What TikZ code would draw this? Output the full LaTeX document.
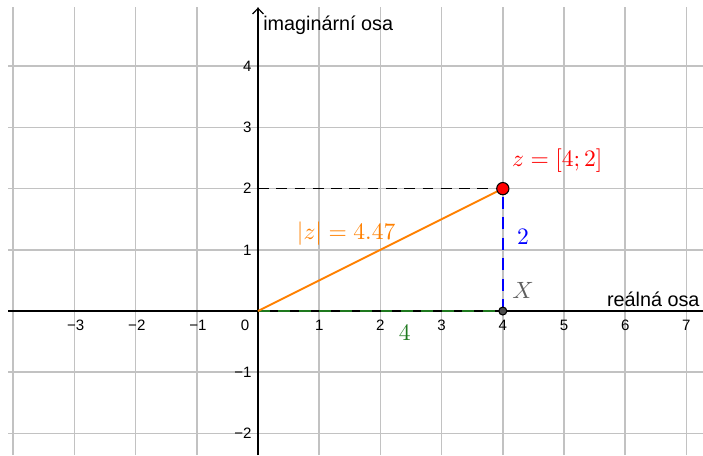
\documentclass[tikz,border=0pt]{standalone}
\usepackage{amsmath}
\usepackage{fontspec}
\newfontfamily\axisfont{Liberation Sans}
\usepackage{xcolor}
\usepackage{tikz}
\usetikzlibrary{positioning,arrows.meta,calc}

\definecolor{zred}{RGB}{255,0,0}
\definecolor{zorange}{RGB}{255,128,0}
\definecolor{zblue}{RGB}{0,0,255}
\definecolor{zgreen}{RGB}{30,120,30}
\definecolor{zgray}{RGB}{95,95,95}

\begin{document}
\begin{tikzpicture}[
  gridline/.style={draw=black!24, line width=0.7pt},
  axis/.style={line width=0.55pt},
  tick/.style={font=\axisfont\fontsize{7}{8}\selectfont, inner sep=0pt},
  axlabel/.style={font=\axisfont\fontsize{9.2}{11}\selectfont, inner sep=0pt},
  mlabel/.style={font=\fontsize{10.5}{12}\selectfont, inner sep=0pt},
  seg/.style={line width=0.9pt, dash pattern=on 5.5pt off 4pt},
  pt/.style={circle, draw=black, line width=0.5pt, inner sep=0pt}
]
\useasboundingbox (-4.2157,-2.353) rectangle (7.271,5.082);

% grid
\foreach \x in {-4,...,7}
  \draw[gridline] (\x,-2.353) -- (\x,4.97);
\foreach \y in {-2,...,4}
  \draw[gridline] (-4.08,\y) -- (7.271,\y);

% axes
\coordinate (xl) at (-4.08,0);
\coordinate (xr) at (7.271,0);
\coordinate (yb) at (0,-2.353);
\coordinate (yt) at (0,4.96);
\draw[axis] (xl) -- (xr);
\draw[axis, -{Straight Barb[length=2.6pt, width=5pt]}] (yb) -- (yt);

\node[axlabel, anchor=west] (im) at (0.08,4.67) {imaginární osa};
\node[axlabel, anchor=east] (re) at (7.22,0.19) {reálná osa};

% tick labels
\foreach \x in {-3,-2,-1}
  \node[tick] (tx\x) at (\x+0.02,-0.23) {\textminus\the\numexpr-\x\relax};
\foreach \x in {1,...,7}
  \node[tick] (tx\x) at (\x,-0.23) {\x};
\node[tick] (t0) at (-0.21,-0.23) {0};
\foreach \y in {1,...,4}
  \node[tick, anchor=east] (ty\y) at (-0.1,\y) {\y};
\foreach \y in {1,2}
  \node[tick, anchor=east] (tyn\y) at (-0.1,-\y) {\textminus\y};

% point and segments
\coordinate (O) at (0,0);
\coordinate (Y) at (0,2);
\coordinate (Zc) at (4,2);
\coordinate (Xc) at (4,0);
\draw[line width=0.7pt, dash pattern=on 5pt off 3.5pt] (Y) -- (Zc);
\draw[seg, zgreen] (O) -- (Xc);
\draw[seg, zblue] (Xc) -- (Zc);
\draw[zorange, line width=0.9pt] (O) -- (Zc);

\node[pt, fill=black!70, minimum size=0.13cm] (X) at (Xc) {};
\node[pt, fill=zred, minimum size=0.2cm] (Z) at (Zc) {};

% labels
\node[mlabel, text=zred] (zlab) at (4.89,2.45) {$z=[4;2]$};
\node[mlabel, text=zorange] (abslab) at (1.44,1.27) {$|z|=4.47$};
\node[mlabel, text=zblue] (im2) at (4.33,1.21) {$2$};
\node[mlabel, text=zgray] (xlab) at (4.33,0.34) {$X$};
\node[mlabel, text=zgreen] (re4) at (2.40,-0.36) {$4$};
\end{tikzpicture}
\end{document}
